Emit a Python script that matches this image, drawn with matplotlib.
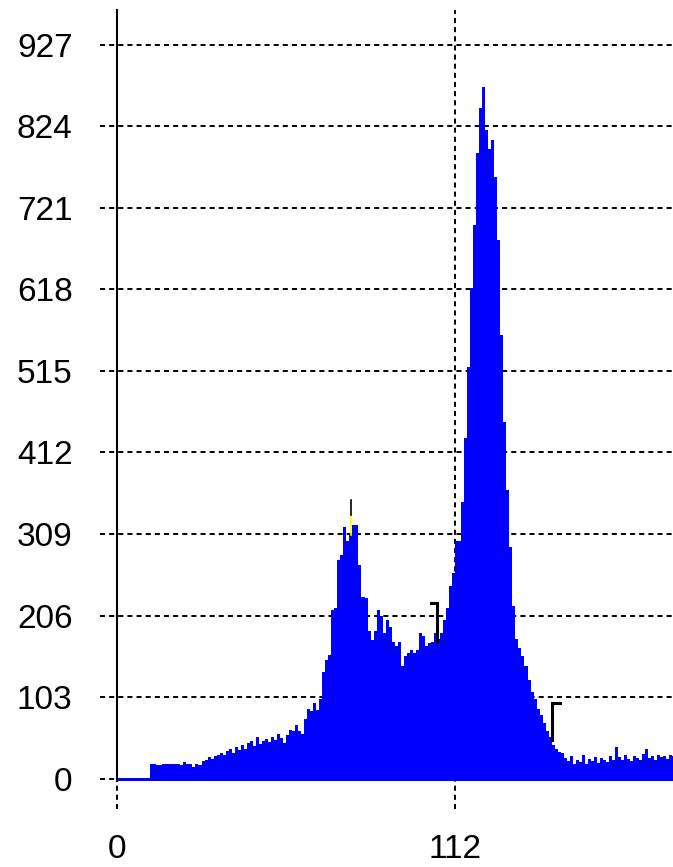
import numpy as np
import matplotlib.pyplot as plt

plt.rcParams['font.family'] = ['Liberation Sans', 'DejaVu Sans']

# histogram counts, one bin per grey level 0..184
counts = [
    1, 1, 1, 1, 1, 1, 1, 1, 1, 1, 1,                     # 0-10
    19, 18, 17, 17, 18, 19, 18, 19, 18, 18,             # 11-20
    17, 21, 19, 18, 15, 19, 17, 22,                     # 21-28
    24, 27, 25, 28, 30,                                 # 29-33
    32, 30, 35, 38, 33, 40, 36,                         # 34-40
    42, 38, 45, 48, 41, 52, 44, 47,                     # 41-48
    50, 46, 53, 49, 56, 51, 45,                         # 49-55
    55, 62, 60, 68,                                     # 56-59
    60, 56, 75, 88, 85, 95, 87, 101,                    # 60-67
    135, 150, 156, 213, 215, 276, 283,                  # 68-74
    318, 300, 308, 321, 320, 270, 230, 228,             # 75-82
    186, 175, 186, 213, 205, 184, 200, 192,             # 83-90
    173, 167, 173, 142, 155, 159, 163, 159, 163,        # 91-99
    184, 180, 167, 171, 173, 184,                       # 100-105
    176, 184, 200, 215, 243, 260, 300, 300, 350,        # 106-114
    430, 520, 620, 700, 790, 847, 874, 820, 795,        # 115-123
    807, 760, 680, 560, 450, 365, 293, 218, 176,        # 124-132
    165, 155, 142, 125, 110, 100, 88, 80, 70,           # 133-141
    60, 52, 43, 37, 34, 32,                             # 142-147
    26, 22, 28, 19, 24, 21, 30, 18, 25, 22,             # 148-157
    27, 20, 26, 23, 21, 28, 24, 40, 27, 23,             # 158-167
    30, 25, 22, 29, 26, 24, 31, 37, 26, 29,             # 168-177
    24, 30, 27, 28, 25, 30, 28,                         # 178-184
]
edges = np.arange(len(counts) + 1)

y_ticks = [0, 103, 206, 309, 412, 515, 618, 721, 824, 927]
x_ticks = [0, 112]

# cursor marks on the histogram
peak_x, peak_low, peak_mid, peak_high = 77.5, 308, 333, 352
left_x, left_top, left_bottom = 105.9, 222, 173
right_x, right_top, right_bottom = 144.0, 96, 49

fig = plt.figure(figsize=(6.73, 8.67), dpi=100)
ax = fig.add_axes([117 / 673, 86 / 867, 556 / 673, 771 / 867])

ax.stairs(counts, edges, baseline=-3, fill=True, color='#0000ff',
          linewidth=0, zorder=2)

ax.set_xlim(0, 184.2)
ax.set_ylim(-3, 971)

grid_kw = dict(color='black', linewidth=1.4, dashes=(2.6, 2.1),
               clip_on=False, zorder=1)
for v in y_ticks:
    ax.axhline(v, xmin=-0.031, xmax=1.0, **grid_kw)
ax.axvline(x_ticks[1], ymin=-0.036, ymax=1.0, **grid_kw)
ax.axvline(x_ticks[0], ymin=-0.036, ymax=0.0, **grid_kw)

# markers
ax.plot([peak_x, peak_x], [peak_low, peak_mid], color='#ffff00',
        linewidth=1.2, zorder=4)
ax.plot([peak_x, peak_x], [peak_mid, peak_high], color='black',
        linewidth=1.2, zorder=4)
ax.plot([left_x - 1.8, left_x, left_x], [left_top, left_top, left_bottom],
        color='black', linewidth=2.2, solid_joinstyle='miter', zorder=4)
ax.plot([right_x + 2.8, right_x, right_x], [right_top, right_top, right_bottom],
        color='black', linewidth=2.2, solid_joinstyle='miter', zorder=4)

ax.set_yticks(y_ticks)
ax.set_xticks(x_ticks)
ax.tick_params(axis='y', length=0, pad=32, labelsize=24)
ax.tick_params(axis='x', length=0, pad=38, labelsize=24)

for side in ['top', 'right', 'bottom']:
    ax.spines[side].set_visible(False)
ax.spines['left'].set_linewidth(1.5)
ax.spines['left'].set_zorder(3)

fig.savefig('out.png', dpi=100, facecolor='white')
